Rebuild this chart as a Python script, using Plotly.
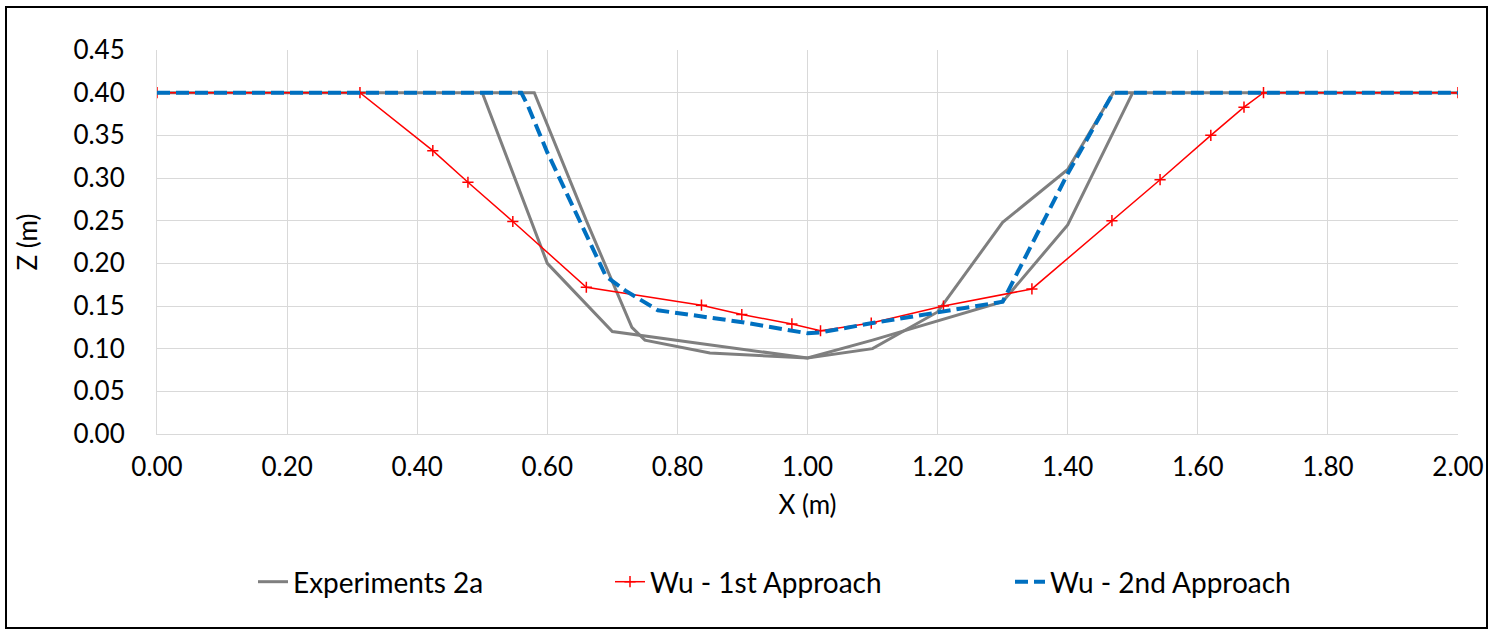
import plotly.graph_objects as go

# Experiments 2a (two measured profiles, drawn as one series)
exp_a_x = [0.00, 0.50, 0.60, 0.70, 1.00, 1.10, 1.20, 1.30, 1.40, 1.47, 2.00]
exp_a_z = [0.40, 0.40, 0.20, 0.12, 0.089, 0.100, 0.143, 0.248, 0.310, 0.40, 0.40]
exp_b_x = [0.50, 0.58, 0.66, 0.73, 0.75, 0.85, 1.00, 1.10, 1.30, 1.40, 1.50]
exp_b_z = [0.40, 0.40, 0.25, 0.125, 0.110, 0.095, 0.089, 0.110, 0.155, 0.245, 0.40]

# Wu - 1st Approach
wu1_x = [0.00, 0.312, 0.424, 0.478, 0.547, 0.660, 0.837, 0.899, 0.976, 1.020,
         1.098, 1.209, 1.345, 1.468, 1.542, 1.620, 1.671, 1.701, 2.00]
wu1_z = [0.40, 0.400, 0.332, 0.295, 0.249, 0.172, 0.151, 0.140, 0.129, 0.121,
         0.130, 0.150, 0.170, 0.250, 0.298, 0.350, 0.383, 0.400, 0.40]

# Wu - 2nd Approach
wu2_x = [0.00, 0.56, 0.57, 0.60, 0.69, 0.72, 0.77, 0.90, 1.00, 1.02,
         1.10, 1.20, 1.30, 1.40, 1.47, 2.00]
wu2_z = [0.40, 0.40, 0.385, 0.33, 0.185, 0.168, 0.145, 0.131, 0.118, 0.119,
         0.130, 0.142, 0.155, 0.305, 0.40, 0.40]

x_ticks = [0.0, 0.2, 0.4, 0.6, 0.8, 1.0, 1.2, 1.4, 1.6, 1.8, 2.0]
z_ticks = [0.00, 0.05, 0.10, 0.15, 0.20, 0.25, 0.30, 0.35, 0.40, 0.45]

FONT = "Lato"
L, R, T, B = 157, 33, 50, 200
W, H = 1491, 634
pw, ph = W - L - R, H - T - B

fig = go.Figure()
fig.add_trace(go.Scatter(
    x=exp_a_x + [None] + exp_b_x, y=exp_a_z + [None] + exp_b_z,
    mode="lines", name="Experiments 2a", legend="legend",
    line=dict(color="#7F7F7F", width=3), connectgaps=False))
fig.add_trace(go.Scatter(
    x=wu1_x, y=wu1_z, mode="lines+markers", name="Wu - 1st Approach",
    legend="legend2",
    line=dict(color="#FF0000", width=1.5),
    marker=dict(symbol="cross-thin-open", size=8, color="#FF0000",
                line=dict(width=1.5, color="#FF0000"))))
fig.add_trace(go.Scatter(
    x=wu2_x, y=wu2_z, mode="lines", name="Wu - 2nd Approach",
    legend="legend3",
    line=dict(color="#0070C0", width=4, dash="13px,6px")))

leg_y = (T + ph - 582) / ph


def leg(text_left_px):
    return dict(orientation="h", x=(text_left_px - 40 - L) / pw, xanchor="left",
                y=leg_y, yanchor="middle", bgcolor="rgba(0,0,0,0)",
                font=dict(family=FONT, size=28, color="#000000"))


fig.update_layout(
    width=W, height=H,
    margin=dict(l=L, r=R, t=T, b=B, autoexpand=False),
    paper_bgcolor="white", plot_bgcolor="white",
    font=dict(family=FONT, size=26, color="#000000"),
    showlegend=True,
    legend=leg(293), legend2=leg(650), legend3=leg(1050),
    xaxis=dict(range=[0, 2.0], tickvals=x_ticks,
               ticktext=[f"{v:.2f}" for v in x_ticks],
               showgrid=True, gridcolor="#D9D9D9", gridwidth=1,
               showline=True, linecolor="#D9D9D9", linewidth=1,
               zeroline=False, ticks="", ticklabelstandoff=10,
               automargin=False,
               title=dict(text="X (m)", standoff=14,
                          font=dict(family=FONT, size=26, color="#000000"))),
    yaxis=dict(range=[0, 0.45], tickvals=z_ticks,
               ticktext=[f"{v:.2f}" for v in z_ticks],
               showgrid=True, gridcolor="#D9D9D9", gridwidth=1,
               showline=True, linecolor="#D9D9D9", linewidth=1,
               zeroline=False, ticks="", ticklabelstandoff=26,
               automargin=False,
               title=dict(text="Z (m)", standoff=28,
                          font=dict(family=FONT, size=26, color="#000000"))),
)

# outer chart border
fig.add_shape(type="rect", xref="paper", yref="paper",
              x0=(6 - L) / pw, x1=(1487 - L) / pw,
              y0=(T + ph - 628) / ph, y1=(T + ph - 7) / ph,
              line=dict(color="#000000", width=2), fillcolor="rgba(0,0,0,0)",
              layer="below")

fig.write_html("out.html")
